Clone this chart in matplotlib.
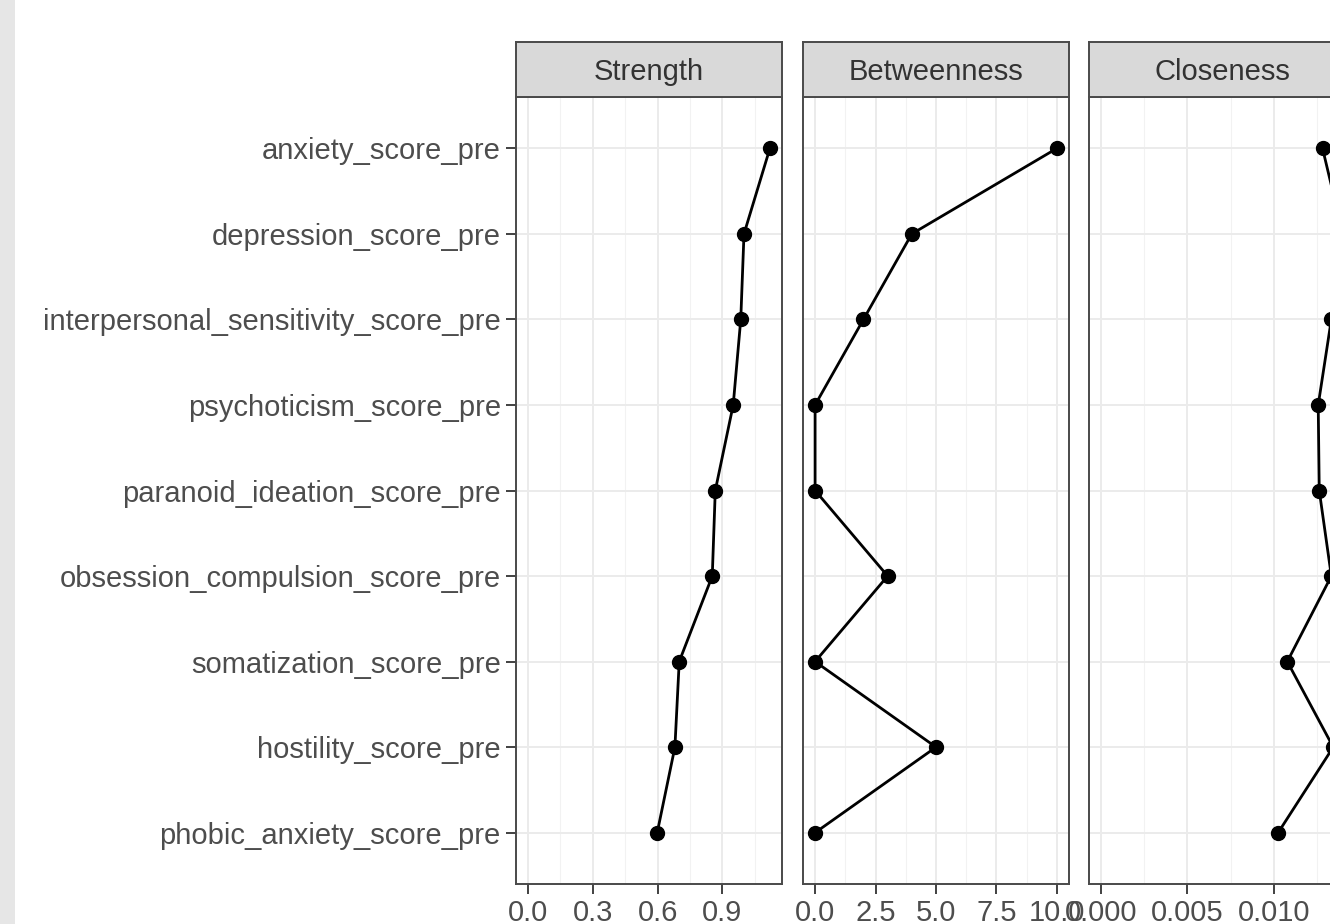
"""Centrality plot (Strength / Betweenness / Closeness) in ggplot theme_bw style."""

import matplotlib
matplotlib.use("Agg")

import numpy as np
import matplotlib.pyplot as plt
from matplotlib.patches import Rectangle

nodes = [
    "anxiety_score_pre",
    "depression_score_pre",
    "interpersonal_sensitivity_score_pre",
    "psychoticism_score_pre",
    "paranoid_ideation_score_pre",
    "obsession_compulsion_score_pre",
    "somatization_score_pre",
    "hostility_score_pre",
    "phobic_anxiety_score_pre",
]
strength = [1.12, 1.00, 0.985, 0.95, 0.867, 0.853, 0.70, 0.68, 0.598]
betweenness = [10, 4, 2, 0, 0, 3, 0, 5, 0]
closeness = [0.01282, 0.0140, 0.01333, 0.01257, 0.01263, 0.01333, 0.01078, 0.01344, 0.01025]

panels = [
    ("Strength", strength, [0.0, 0.3, 0.6, 0.9], "{:.1f}"),
    ("Betweenness", betweenness, [0.0, 2.5, 5.0, 7.5, 10.0], "{:.1f}"),
    ("Closeness", closeness, [0.0, 0.005, 0.010], "{:.3f}"),
]

W, H = 1330, 924
plt.rcParams["font.family"] = ["Liberation Sans", "DejaVu Sans"]

fig = plt.figure(figsize=(W / 100, H / 100), dpi=100)
fig.patch.set_facecolor("white")

# light grey strip at the left edge of the screenshot
fig.patches.append(Rectangle((0, 0), 15 / W, 1, transform=fig.transFigure,
                             facecolor="#e6e6e6", edgecolor="none", zorder=0))

panel_left = [516, 803, 1089]
panel_w = 266
strip_top, panel_top, panel_bot = 42, 97, 884
border = "#4a4a4a"
fs = 21
ypos = np.arange(len(nodes))

for i, (title, vals, ticks, fmt) in enumerate(panels):
    x0 = panel_left[i]
    ax = fig.add_axes([x0 / W, 1 - panel_bot / H, panel_w / W, (panel_bot - panel_top) / H])
    ax.set_facecolor("white")

    ax.set_xticks(ticks)
    ax.set_xticklabels([fmt.format(t) for t in ticks])
    step = ticks[1] - ticks[0]
    minor = [t + step / 2 for t in ticks] + [ticks[0] - step / 2]
    ax.set_xticks(minor, minor=True)
    ax.set_yticks(ypos)
    if i == 0:
        ax.set_yticklabels(nodes)
    else:
        ax.set_yticklabels([])

    # limits after ticks so the ticks do not widen the view
    lo = min(0, min(vals))
    hi = max(vals)
    pad = 0.05 * (hi - lo)
    ax.set_xlim(lo - pad, hi + pad)
    ax.set_ylim(len(nodes) - 1 + 0.6, -0.6)

    ax.grid(True, which="major", color="#ebebeb", linewidth=1.4, zorder=0)
    ax.grid(True, which="minor", axis="x", color="#f2f2f2", linewidth=0.8, zorder=0)
    ax.set_axisbelow(True)

    ax.tick_params(axis="both", which="major", labelsize=fs, colors="#333333",
                   labelcolor="#4d4d4d", length=7, width=1.3, pad=4)
    ax.tick_params(axis="x", which="minor", length=0)
    if i > 0:
        ax.tick_params(axis="y", length=0)

    for sp in ax.spines.values():
        sp.set_color(border)
        sp.set_linewidth(1.4)

    ax.plot(vals, ypos, color="black", linewidth=2.0, marker="o",
            markersize=10, zorder=3)

    # facet strip
    sax = fig.add_axes([x0 / W, 1 - panel_top / H, panel_w / W, (panel_top - strip_top) / H])
    sax.set_facecolor("#d9d9d9")
    sax.set_xticks([])
    sax.set_yticks([])
    for sp in sax.spines.values():
        sp.set_color(border)
        sp.set_linewidth(1.4)
    sax.text(0.5, 0.46, title, transform=sax.transAxes, ha="center", va="center",
             fontsize=fs, color="#333333")

fig.savefig("out.png", dpi=100)
plt.close(fig)
